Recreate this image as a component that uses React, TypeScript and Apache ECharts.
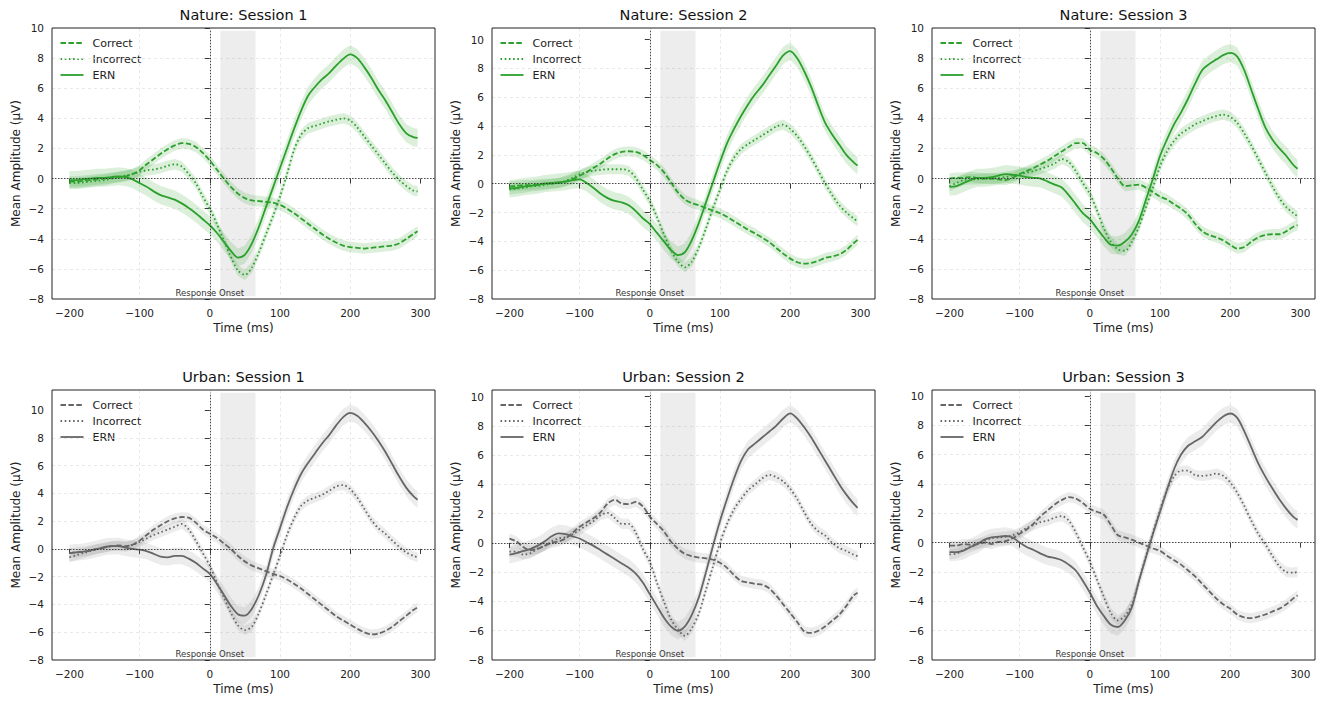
import React, { useEffect, useRef } from "react";
import * as echarts from "echarts";

const times = [-200,-190,-180,-170,-160,-150,-140,-130,-120,-110,-100,-90,-80,-70,-60,-50,-40,-30,-20,-10,0,10,20,30,40,50,60,70,80,90,100,110,120,130,140,150,160,170,180,190,200,210,220,230,240,250,260,270,280,290,296];
const xTicks = [-200, -100, 0, 100, 200, 300];
const yTicks = [-8, -6, -4, -2, 0, 2, 4, 6, 8, 10];
const conditionNames = ["Correct", "Incorrect", "ERN"];
const bandHalfWidth = [0.35, 0.35, 0.6];
const responseWindow = [15, 65];
const panelTitles = ["Nature: Session 1", "Nature: Session 2", "Nature: Session 3", "Urban: Session 1", "Urban: Session 2", "Urban: Session 3"];
const yTops = [10.0, 10.8, 10.0, 11.45, 10.45, 10.4];

const natureS1Correct = [-0.2,-0.2,-0.15,-0.1,-0.05,0.0,0.05,0.1,0.15,0.3,0.55,0.95,1.3,1.65,1.95,2.2,2.35,2.3,2.1,1.7,1.2,0.6,0.0,-0.55,-1.0,-1.3,-1.45,-1.5,-1.55,-1.6,-1.75,-2.0,-2.3,-2.65,-3.0,-3.35,-3.7,-4.0,-4.25,-4.45,-4.55,-4.6,-4.65,-4.6,-4.55,-4.5,-4.45,-4.3,-4.0,-3.7,-3.5];
const natureS1Incorrect = [-0.3,-0.3,-0.25,-0.2,-0.15,-0.1,0.0,0.1,0.2,0.3,0.45,0.55,0.6,0.7,0.85,0.95,0.8,0.3,-0.3,-1.2,-2.0,-3.0,-4.1,-5.2,-6.1,-6.4,-5.9,-4.9,-3.7,-2.5,-1.2,0.3,1.9,2.9,3.35,3.5,3.65,3.8,3.9,4.0,3.85,3.4,2.8,2.2,1.6,1.0,0.4,-0.1,-0.5,-0.8,-0.85];
const natureS1Ern = [-0.1,-0.1,-0.05,0.0,0.05,0.05,0.1,0.15,0.1,-0.05,-0.3,-0.55,-0.85,-1.1,-1.25,-1.4,-1.65,-1.95,-2.3,-2.7,-3.1,-3.6,-4.2,-4.8,-5.25,-5.05,-4.3,-3.2,-1.9,-0.6,0.7,2.0,3.3,4.5,5.5,6.1,6.6,7.0,7.5,7.95,8.25,8.0,7.4,6.7,5.9,5.2,4.4,3.6,3.0,2.75,2.7];

const natureS2Correct = [-0.2,-0.15,-0.1,-0.1,-0.05,0.0,0.0,0.05,0.15,0.3,0.55,0.8,1.1,1.4,1.75,2.05,2.2,2.25,2.2,2.0,1.65,1.3,0.8,0.1,-0.6,-1.1,-1.35,-1.5,-1.7,-1.85,-2.05,-2.3,-2.6,-2.9,-3.2,-3.45,-3.75,-4.05,-4.45,-4.85,-5.2,-5.45,-5.55,-5.5,-5.35,-5.15,-5.05,-4.9,-4.6,-4.15,-3.9];
const natureS2Incorrect = [-0.4,-0.35,-0.3,-0.2,-0.15,-0.1,0.0,0.05,0.2,0.4,0.65,0.8,0.9,0.95,1.0,1.0,1.0,0.9,0.4,-0.4,-1.2,-2.3,-3.5,-4.6,-5.4,-5.8,-5.4,-4.4,-3.1,-1.7,-0.4,0.9,1.8,2.4,2.75,3.05,3.35,3.65,3.95,4.1,3.8,3.3,2.6,1.8,0.9,0.0,-0.8,-1.5,-2.0,-2.4,-2.6];
const natureS2Ern = [-0.35,-0.3,-0.2,-0.15,-0.1,0.0,0.05,0.1,0.15,0.25,0.3,0.05,-0.3,-0.7,-1.0,-1.2,-1.3,-1.5,-1.9,-2.4,-2.8,-3.4,-4.0,-4.6,-4.95,-4.75,-3.9,-2.7,-1.3,0.1,1.5,2.8,3.8,4.7,5.5,6.2,6.8,7.5,8.2,8.9,9.2,8.7,7.8,6.7,5.4,4.2,3.4,2.7,2.0,1.5,1.25];

const natureS3Correct = [0.0,0.05,0.05,0.1,0.05,0.0,0.0,-0.05,-0.1,0.05,0.3,0.5,0.7,0.95,1.2,1.5,1.8,2.1,2.35,2.35,1.9,1.7,1.3,0.7,0.0,-0.5,-0.45,-0.4,-0.6,-0.9,-1.2,-1.4,-1.7,-2.0,-2.4,-3.0,-3.5,-3.75,-3.9,-4.1,-4.4,-4.65,-4.55,-4.2,-3.9,-3.75,-3.7,-3.7,-3.5,-3.2,-3.1];
const natureS3Incorrect = [-0.5,-0.3,-0.1,-0.05,-0.05,0.0,0.0,0.05,0.1,0.2,0.3,0.4,0.5,0.65,0.8,1.0,1.3,1.1,0.5,-0.3,-1.0,-2.1,-3.3,-4.2,-4.7,-4.8,-4.2,-3.2,-1.9,-0.6,0.8,1.8,2.5,3.0,3.3,3.6,3.8,4.0,4.15,4.25,4.1,3.7,3.0,2.2,1.3,0.4,-0.5,-1.3,-1.9,-2.3,-2.5];
const natureS3Ern = [-0.55,-0.5,-0.3,-0.1,0.05,0.05,0.1,0.2,0.3,0.25,0.2,0.1,0.05,0.0,-0.2,-0.4,-0.6,-1.1,-1.7,-2.3,-2.7,-3.3,-3.9,-4.4,-4.45,-4.2,-3.7,-2.8,-1.4,0.0,1.5,2.6,3.6,4.4,5.3,6.3,7.2,7.6,7.9,8.2,8.35,8.1,7.2,5.9,4.6,3.4,2.6,2.0,1.5,0.9,0.65];

const urbanS1Correct = [-0.3,-0.25,-0.2,-0.1,0.0,0.1,0.2,0.25,0.2,0.3,0.6,1.0,1.4,1.7,2.0,2.2,2.3,2.25,1.9,1.4,1.1,0.8,0.4,0.0,-0.5,-0.9,-1.2,-1.4,-1.6,-1.8,-1.95,-2.2,-2.5,-2.85,-3.25,-3.65,-4.05,-4.45,-4.85,-5.15,-5.45,-5.75,-6.0,-6.15,-6.1,-5.9,-5.6,-5.2,-4.8,-4.4,-4.2];
const urbanS1Incorrect = [-0.6,-0.45,-0.3,-0.15,0.0,0.1,0.2,0.2,0.15,0.3,0.5,0.75,1.0,1.2,1.4,1.6,1.8,1.4,0.6,-0.3,-1.2,-2.4,-3.5,-4.6,-5.5,-5.85,-5.6,-4.6,-3.3,-1.9,-0.5,1.0,2.2,3.1,3.5,3.7,3.9,4.2,4.5,4.6,4.3,3.7,2.9,2.1,1.5,1.1,0.6,0.15,-0.25,-0.5,-0.6];
const urbanS1Ern = [-0.3,-0.25,-0.2,-0.1,0.0,0.15,0.2,0.2,0.1,0.0,-0.05,-0.15,-0.35,-0.55,-0.6,-0.5,-0.5,-0.7,-1.0,-1.4,-1.8,-2.5,-3.3,-4.1,-4.7,-4.8,-4.3,-3.3,-1.9,0.0,1.5,3.0,4.3,5.4,6.2,6.9,7.6,8.2,8.9,9.5,9.8,9.6,9.1,8.5,7.8,7.0,6.1,5.2,4.4,3.8,3.55];

const urbanS2Correct = [0.3,0.1,-0.3,-0.5,-0.4,-0.2,0.0,0.1,0.3,0.7,1.1,1.4,1.7,2.1,2.7,2.95,2.7,2.65,2.8,2.5,1.8,1.3,0.8,0.1,-0.4,-0.75,-0.9,-1.0,-1.05,-1.15,-1.35,-1.7,-2.2,-2.6,-2.7,-2.8,-2.85,-3.1,-3.6,-4.2,-4.8,-5.4,-6.05,-6.15,-6.0,-5.7,-5.3,-4.9,-4.3,-3.6,-3.4];
const urbanS2Incorrect = [-0.6,-0.6,-0.8,-0.7,-0.4,-0.2,0.1,0.3,0.4,0.6,0.9,1.2,1.5,1.9,2.05,1.7,1.3,1.3,0.7,-0.4,-1.3,-2.7,-4.0,-5.2,-5.9,-6.35,-5.8,-4.8,-3.2,-1.6,0.0,1.3,2.3,3.0,3.6,4.0,4.4,4.65,4.5,4.2,3.7,3.0,2.1,1.3,0.8,0.5,0.0,-0.35,-0.55,-0.8,-0.9];
const urbanS2Ern = [-0.8,-0.7,-0.55,-0.4,-0.2,0.1,0.45,0.65,0.6,0.45,0.3,0.05,-0.2,-0.5,-0.8,-1.1,-1.4,-1.7,-2.1,-2.7,-3.5,-4.3,-5.1,-5.7,-6.0,-5.7,-4.9,-3.7,-2.0,-0.2,1.5,3.0,4.4,5.6,6.4,6.8,7.2,7.6,8.0,8.5,8.85,8.5,7.9,7.2,6.4,5.6,4.8,4.0,3.3,2.7,2.4];

const urbanS3Correct = [-0.2,-0.2,-0.1,-0.15,-0.1,0.0,-0.1,0.05,0.1,0.3,0.6,0.9,1.3,1.8,2.2,2.6,2.9,3.1,3.0,2.7,2.3,2.1,1.9,1.2,0.5,0.35,0.2,0.0,-0.2,-0.4,-0.55,-0.9,-1.2,-1.5,-1.9,-2.3,-2.8,-3.3,-3.8,-4.2,-4.5,-4.9,-5.1,-5.15,-5.05,-4.9,-4.7,-4.5,-4.2,-3.8,-3.6];
const urbanS3Incorrect = [-0.8,-0.75,-0.5,-0.3,-0.1,0.1,0.3,0.35,0.4,0.5,0.7,1.0,1.2,1.4,1.5,1.7,1.8,1.5,0.7,-0.3,-1.3,-2.5,-3.7,-4.8,-5.3,-5.0,-4.2,-2.6,-0.9,0.7,2.2,3.6,4.5,4.9,4.9,4.6,4.55,4.6,4.7,4.55,4.1,3.4,2.5,1.5,0.6,-0.1,-0.9,-1.6,-2.0,-2.05,-2.0];
const urbanS3Ern = [-0.65,-0.65,-0.55,-0.3,-0.1,0.2,0.35,0.4,0.45,0.35,0.0,-0.3,-0.5,-0.75,-0.95,-1.05,-1.2,-1.5,-1.9,-2.6,-3.4,-4.3,-5.0,-5.6,-5.75,-5.3,-4.4,-2.6,-1.0,0.6,2.1,3.6,5.0,6.0,6.6,6.9,7.2,7.7,8.2,8.6,8.8,8.5,7.6,6.5,5.4,4.5,3.7,2.95,2.3,1.75,1.55];

const panelSeries = [
  [natureS1Correct, natureS1Incorrect, natureS1Ern],
  [natureS2Correct, natureS2Incorrect, natureS2Ern],
  [natureS3Correct, natureS3Incorrect, natureS3Ern],
  [urbanS1Correct, urbanS1Incorrect, urbanS1Ern],
  [urbanS2Correct, urbanS2Incorrect, urbanS2Ern],
  [urbanS3Correct, urbanS3Incorrect, urbanS3Ern],
];

const FONT = "DejaVu Sans";
const GREEN = "#2ca02c";
const GRAY = "#666666";
const GREEN_FILL = "rgba(44,160,44,0.17)";
const GRAY_FILL = "rgba(110,110,110,0.13)";
const colLefts = [52, 492, 932];
const rowTops = [28, 390];
const rowHeights = [271, 270];
const plotWidth = 383;
const X_MIN = -224.8;
const X_MAX = 320.8;
const Y_MIN = -8;
const dashStyles: any[] = [[5.5, 2.4], [1.6, 2.6], "solid"];
const legendDash: any[] = [[5.5, 2.4], [1.6, 2.6], null];

const fmtMinus = (v: number) => (v < 0 ? "\u2212" + Math.abs(v) : String(v));

function buildOption() {
  const grids: any[] = [];
  const xAxes: any[] = [];
  const yAxes: any[] = [];
  const series: any[] = [];
  const graphics: any[] = [];

  panelTitles.forEach((title, p) => {
    const row = p < 3 ? 0 : 1;
    const col = p % 3;
    const left = colLefts[col];
    const top = rowTops[row];
    const height = rowHeights[row];
    const color = row === 0 ? GREEN : GRAY;
    const fill = row === 0 ? GREEN_FILL : GRAY_FILL;
    const yMax = yTops[p];
    const span = yMax - Y_MIN;
    const lo = Y_MIN + 0.01 * span;
    const hi = yMax - 0.01 * span;

    grids.push({ left, top, width: plotWidth, height, show: false, containLabel: false });

    const gridLine = { show: true, showMinLine: false, showMaxLine: false, lineStyle: { color: "#e3e3e3", width: 0.8, type: [3, 3] } };

    xAxes.push({
      type: "value", gridIndex: p, min: X_MIN, max: X_MAX, splitNumber: 5,
      axisLine: { show: false },
      axisTick: { show: true, customValues: xTicks, length: 5, lineStyle: { color: "#222", width: 0.9 } },
      axisLabel: { customValues: xTicks, formatter: fmtMinus, fontSize: 10.5, color: "#222", fontFamily: FONT, margin: 8 },
      splitLine: gridLine,
      name: "Time (ms)", nameLocation: "middle", nameGap: 23,
      nameTextStyle: { fontSize: 12, color: "#222", fontFamily: FONT },
    });
    yAxes.push({
      type: "value", gridIndex: p, min: Y_MIN, max: yMax, interval: 2,
      axisLine: { show: false },
      axisTick: { show: true, customValues: yTicks, length: 5, lineStyle: { color: "#222", width: 0.9 } },
      axisLabel: { customValues: yTicks, formatter: fmtMinus, fontSize: 10.5, color: "#222", fontFamily: FONT, margin: 8 },
      splitLine: gridLine,
      name: "Mean Amplitude (\u00b5V)", nameLocation: "middle", nameGap: 30,
      nameTextStyle: { fontSize: 12, color: "#222", fontFamily: FONT },
    });

    const vals = panelSeries[p];

    // decorations: response window, zero lines, label
    series.push({
      type: "line", xAxisIndex: p, yAxisIndex: p, z: 1, silent: true,
      data: times.map((t, k) => [t, vals[2][k]]),
      symbol: "none", lineStyle: { opacity: 0, width: 0 },
      markArea: {
        silent: true,
        itemStyle: { color: "rgba(128,128,128,0.14)" },
        data: [[{ xAxis: responseWindow[0], yAxis: lo }, { xAxis: responseWindow[1], yAxis: hi }]],
      },
      markLine: {
        silent: true, symbol: ["none", "none"], label: { show: false },
        lineStyle: { color: "#333", width: 0.9, type: [1.5, 1.5] },
        data: [[{ coord: [0, lo] }, { coord: [0, hi] }], { yAxis: 0 }],
      },
      markPoint: {
        silent: true, symbol: "circle", symbolSize: 0,
        label: { show: true, position: "top", distance: 2, formatter: "Response Onset", fontSize: 8.5, color: "#333", fontFamily: FONT },
        data: [{ coord: [0, Y_MIN] }],
      },
    });

    // error bands
    vals.forEach((v, c) => {
      const sem = bandHalfWidth[c];
      series.push({
        type: "custom", xAxisIndex: p, yAxisIndex: p, z: 2, silent: true,
        data: times.map((t, k) => [t, v[k]]),
        encode: { x: 0, y: 1 },
        renderItem: (params: any, api: any) => {
          if (params.dataIndex !== 0) return null;
          const up = times.map((t, k) => api.coord([t, v[k] + sem]));
          const dn = times.map((t, k) => api.coord([t, v[k] - sem])).reverse();
          return { type: "polygon", shape: { points: up.concat(dn) }, style: { fill, stroke: "none" } };
        },
      });
    });

    // mean lines
    vals.forEach((v, c) => {
      series.push({
        type: "line", name: conditionNames[c], xAxisIndex: p, yAxisIndex: p, z: 3, silent: true,
        data: times.map((t, k) => [t, v[k]]),
        symbol: "none", showSymbol: false, smooth: 0.3,
        lineStyle: { color, width: 1.8, type: dashStyles[c], cap: "butt" },
      });
    });

    // frame
    graphics.push({
      type: "rect", silent: true, z: 10,
      shape: { x: left, y: top, width: plotWidth, height },
      style: { fill: "none", stroke: "#222", lineWidth: 1 },
    });
    // title
    graphics.push({
      type: "text", x: left + plotWidth / 2, y: top - 13, silent: true,
      style: { text: title, fontSize: 14.5, fontFamily: FONT, fill: "#111", align: "center", verticalAlign: "middle" },
    });
    // legend
    conditionNames.forEach((name, c) => {
      const ly = top + 15 + 16 * c;
      graphics.push({
        type: "line", silent: true,
        shape: { x1: left + 8.5, y1: ly, x2: left + 31.5, y2: ly },
        style: { stroke: color, lineWidth: 1.8, lineDash: legendDash[c] },
      });
      graphics.push({
        type: "text", x: left + 40.5, y: ly, silent: true,
        style: { text: name, fontSize: 11, fontFamily: FONT, fill: "#222", align: "left", verticalAlign: "middle" },
      });
    });
  });

  return {
    animation: false,
    backgroundColor: "#fff",
    textStyle: { fontFamily: FONT },
    grid: grids,
    xAxis: xAxes,
    yAxis: yAxes,
    series,
    graphic: graphics,
  };
}

export default function App() {
  const ref = useRef<HTMLDivElement>(null);
  useEffect(() => {
    if (!ref.current) return;
    const chart = echarts.init(ref.current, undefined, { renderer: "svg" });
    chart.setOption(buildOption() as any);
    return () => chart.dispose();
  }, []);
  return <div ref={ref} style={{ position: "absolute", left: 0, top: 0, width: 1325, height: 704, background: "#fff" }} />;
}
